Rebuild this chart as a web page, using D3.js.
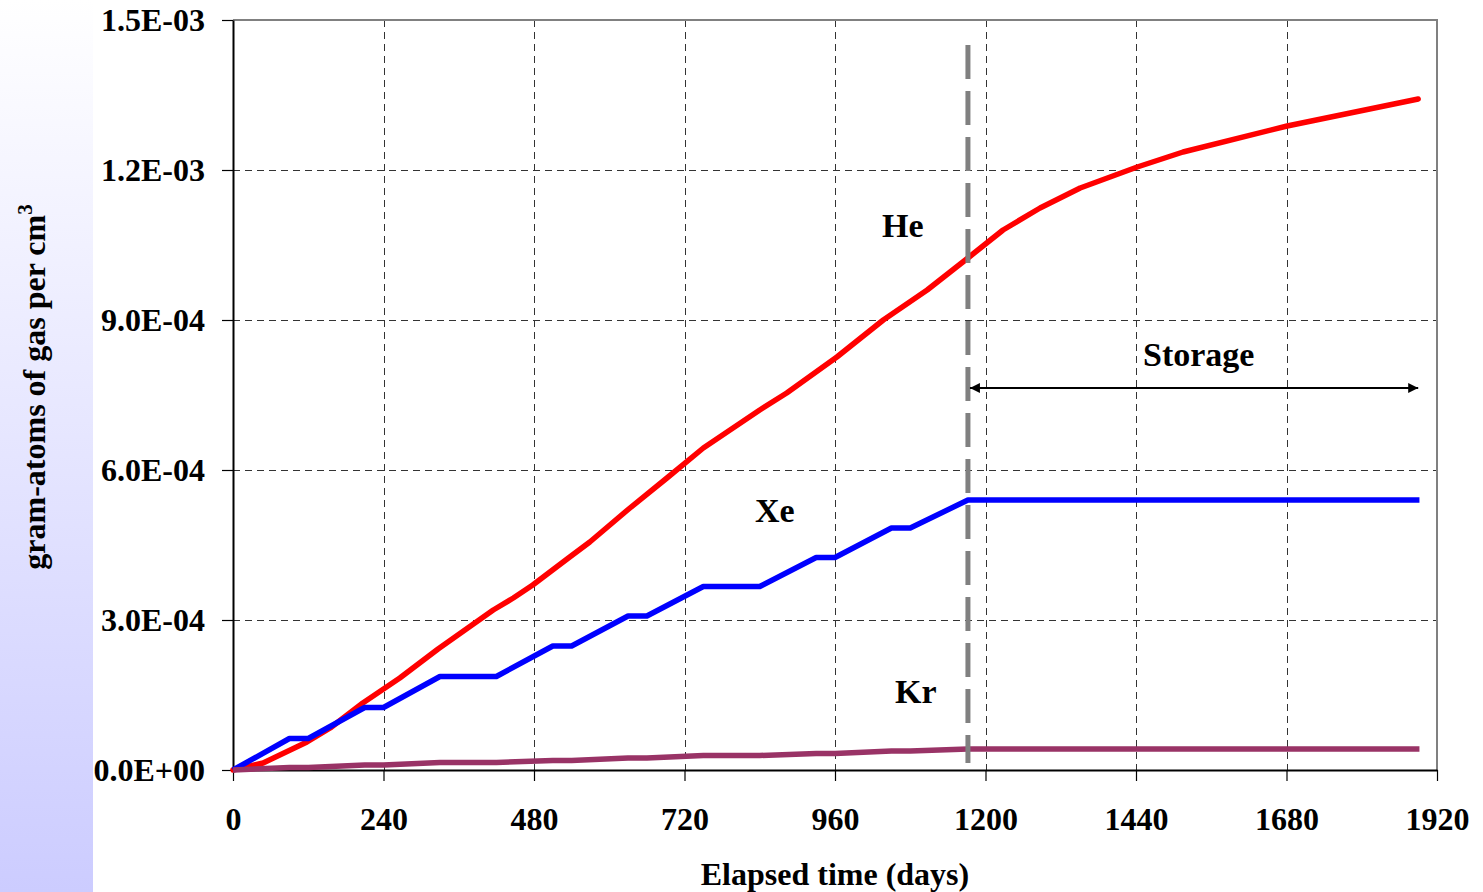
<!DOCTYPE html>
<html>
<head>
<meta charset="utf-8">
<script src="https://cdn.jsdelivr.net/npm/d3@7"></script>
<style>
  body { margin: 0; background: #fff; }
  text { font-family: "Liberation Serif", "Times New Roman", serif; font-weight: bold; fill: #000; }
</style>
</head>
<body>
<div class="chart"></div>
<script>
const WIDTH = 1483;
const HEIGHT = 892;
const LEFT = 233, RIGHT = 1437, TOP = 20, BOTTOM = 770;

// x ticks (days) and y ticks
var xTicks = [0, 240, 480, 720, 960, 1200, 1440, 1680, 1920];
var yTicks = [0, 3e-4, 6e-4, 9e-4, 1.2e-3, 1.5e-3];

// He
var heDays = [0, 48, 118, 155, 207, 266, 327, 415, 447, 478, 537, 569, 633, 692, 750, 840, 883, 963, 1037, 1107, 1172, 1228, 1287, 1351, 1442, 1515, 1681, 1890];
var heValues = [0, 0.14e-4, 0.56e-4, 0.84e-4, 1.34e-4, 1.84e-4, 2.42e-4, 3.20e-4, 3.44e-4, 3.70e-4, 4.26e-4, 4.56e-4, 5.24e-4, 5.84e-4, 6.44e-4, 7.20e-4, 7.54e-4, 8.26e-4, 9.00e-4, 9.60e-4, 10.24e-4, 10.80e-4, 11.24e-4, 11.64e-4, 12.06e-4, 12.36e-4, 12.88e-4, 13.42e-4];

// Xe and Kr share the irradiation / outage steps
var stepDays = [0, 90, 120, 210, 240, 330, 420, 510, 540, 630, 660, 750, 840, 930, 960, 1050, 1080, 1172, 1892];
var xeValues = [0, 0.63e-4, 0.63e-4, 1.25e-4, 1.25e-4, 1.87e-4, 1.87e-4, 2.48e-4, 2.48e-4, 3.08e-4, 3.08e-4, 3.67e-4, 3.67e-4, 4.25e-4, 4.25e-4, 4.84e-4, 4.84e-4, 5.40e-4, 5.40e-4];
var krValues = [0, 0.5e-5, 0.5e-5, 1.0e-5, 1.0e-5, 1.5e-5, 1.5e-5, 1.9e-5, 1.9e-5, 2.4e-5, 2.4e-5, 2.9e-5, 2.9e-5, 3.3e-5, 3.3e-5, 3.8e-5, 3.8e-5, 4.2e-5, 4.2e-5];

var storageStart = 1172, storageEnd = 1890;

var xScale = d3.scaleLinear().domain([0, 1920]).range([LEFT, RIGHT]);
var yScale = d3.scaleLinear().domain([0, 1.5e-3]).range([BOTTOM, TOP]);

var formatSci = function (d) {
    if (d === 0) return "0.0E+00";
    var e = Math.floor(Math.log10(d) + 1e-9);
    var m = d / Math.pow(10, e);
    var s = e < 0 ? "-" : "+";
    var ea = Math.abs(e);
    return m.toFixed(1) + "E" + s + (ea < 10 ? "0" + ea : ea);
};

var svg = d3.select(".chart").append("svg")
    .attr("width", WIDTH)
    .attr("height", HEIGHT);

// left lavender strip
var grad = svg.append("defs").append("linearGradient")
    .attr("id", "strip").attr("x1", 0).attr("y1", 0).attr("x2", 0).attr("y2", 1);
grad.append("stop").attr("offset", "0%").attr("stop-color", "#ffffff");
grad.append("stop").attr("offset", "100%").attr("stop-color", "#ccccff");
svg.append("rect").attr("x", 0).attr("y", 0).attr("width", 93).attr("height", HEIGHT)
    .attr("fill", "url(#strip)");

// grid
var grid = svg.append("g").attr("stroke", "#333").attr("stroke-width", 1).attr("stroke-dasharray", "7,5");
grid.selectAll(".gx").data(xTicks.slice(1, -1)).enter().append("line")
    .attr("x1", function (d) { return Math.round(xScale(d)) + 0.5; })
    .attr("x2", function (d) { return Math.round(xScale(d)) + 0.5; })
    .attr("y1", TOP).attr("y2", BOTTOM);
grid.selectAll(".gy").data(yTicks.slice(1, -1)).enter().append("line")
    .attr("y1", function (d) { return Math.round(yScale(d)) + 0.5; })
    .attr("y2", function (d) { return Math.round(yScale(d)) + 0.5; })
    .attr("x1", LEFT).attr("x2", RIGHT);

// frame top/right in gray
svg.append("path")
    .attr("d", "M" + LEFT + "," + TOP + "H" + RIGHT + "V" + BOTTOM)
    .attr("fill", "none").attr("stroke", "#808080").attr("stroke-width", 2);

// axes
var xAxis = d3.axisBottom(xScale).tickValues(xTicks).tickSize(11).tickSizeOuter(0).tickFormat(d3.format("d"));
var yAxis = d3.axisLeft(yScale).tickValues(yTicks).tickSize(11).tickSizeOuter(0).tickFormat(formatSci);

var gx = svg.append("g").attr("transform", "translate(0," + BOTTOM + ")").call(xAxis);
var gy = svg.append("g").attr("transform", "translate(" + LEFT + ",0)").call(yAxis);
[gx, gy].forEach(function (g) {
    g.select(".domain").attr("stroke", "#000").attr("stroke-width", 2);
    g.selectAll(".tick line").attr("stroke", "#000").attr("stroke-width", 1.2);
    g.selectAll("text").style("font-size", "32px").style("font-family", "Liberation Serif, serif")
        .style("font-weight", "bold").attr("fill", "#000");
});
gx.selectAll("text").attr("dy", null).attr("y", 60);
gy.selectAll("text").attr("x", -28).attr("dy", "0.34em");

// series
var line = d3.line()
    .x(function (d) { return xScale(d[0]); })
    .y(function (d) { return yScale(d[1]); });

var series = [
    { vals: d3.zip(heDays, heValues), color: "#ff0000", cap: "round" },
    { vals: d3.zip(stepDays, xeValues), color: "#0000ff", cap: "butt" },
    { vals: d3.zip(stepDays, krValues), color: "#993366", cap: "butt" }
];
svg.append("g").selectAll("path").data(series).enter().append("path")
    .attr("d", function (d) { return line(d.vals); })
    .attr("fill", "none")
    .attr("stroke", function (d) { return d.color; })
    .attr("stroke-width", 5.5)
    .attr("stroke-linejoin", "round")
    .attr("stroke-linecap", function (d) { return d.cap; });

// end of irradiation marker
svg.append("line")
    .attr("x1", xScale(storageStart)).attr("x2", xScale(storageStart))
    .attr("y1", 45).attr("y2", 763)
    .attr("stroke", "#808080").attr("stroke-width", 5)
    .attr("stroke-dasharray", "34,12");

// storage arrow
var defs = svg.select("defs");
defs.append("marker").attr("id", "ah").attr("viewBox", "0 0 10 10")
    .attr("refX", 10).attr("refY", 5).attr("markerWidth", 7).attr("markerHeight", 5)
    .attr("markerUnits", "strokeWidth").attr("orient", "auto-start-reverse")
    .append("path").attr("d", "M0,0L10,5L0,10z").attr("fill", "#000");
var arrowY = yScale(7.64e-4);
svg.append("line")
    .attr("x1", xScale(storageStart) + 2).attr("x2", xScale(storageEnd))
    .attr("y1", arrowY).attr("y2", arrowY)
    .attr("stroke", "#000").attr("stroke-width", 2)
    .attr("marker-start", "url(#ah)").attr("marker-end", "url(#ah)");

// labels
var labels = [
    { t: "He", x: 1068, y: 1.066e-3 },
    { t: "Xe", x: 864, y: 4.96e-4 },
    { t: "Kr", x: 1089, y: 1.34e-4 },
    { t: "Storage", x: 1540, y: 8.08e-4 }
];
svg.selectAll(".lab").data(labels).enter().append("text")
    .attr("x", function (d) { return xScale(d.x); })
    .attr("y", function (d) { return yScale(d.y); })
    .attr("text-anchor", "middle")
    .style("font-size", "34px")
    .text(function (d) { return d.t; });

// axis titles
svg.append("text")
    .attr("x", 835).attr("y", 885)
    .attr("text-anchor", "middle").style("font-size", "32px")
    .text("Elapsed time (days)");

var yt = svg.append("text")
    .attr("transform", "translate(45,387) rotate(-90)")
    .attr("text-anchor", "middle").style("font-size", "32px");
yt.append("tspan").text("gram-atoms of gas per cm");
yt.append("tspan").attr("dy", -13).style("font-size", "21px").text("3");
</script>
</body>
</html>
